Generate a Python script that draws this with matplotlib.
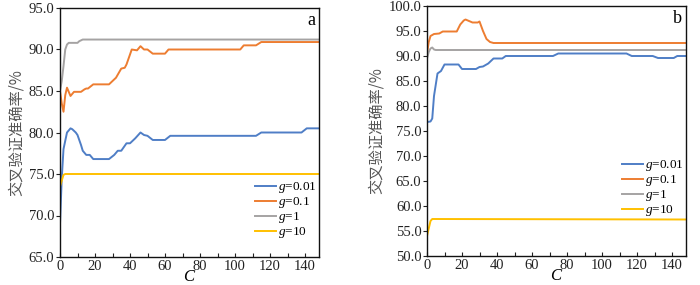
import matplotlib
matplotlib.use("Agg")
from matplotlib import pyplot as plt
from matplotlib.ticker import MultipleLocator, FormatStrFormatter

plt.rcParams['font.family'] = ['Liberation Serif', 'Noto Sans CJK SC']
plt.rcParams['mathtext.fontset'] = 'custom'
plt.rcParams['mathtext.it'] = 'Liberation Serif:italic'
plt.rcParams['mathtext.rm'] = 'Liberation Serif'

labels = ['$g$=0.01', '$g$=0.1', '$g$=1', '$g$=10']
colors = ['#4F7EC6', '#ED7D31', '#A5A3A3', '#FFC000']

# panel a
a_c001 = [0, 1, 2, 4, 6, 7, 9, 10, 12, 13, 15, 17, 19, 28, 31, 33, 35, 38, 40, 43, 46,
          48, 50, 53, 60, 63, 112, 115, 138, 141, 150]
a_g001 = [69.0, 74.5, 78.0, 80.0, 80.5, 80.4, 80.0, 79.7, 78.5, 77.8, 77.3, 77.3, 76.8,
          76.8, 77.3, 77.8, 77.8, 78.7, 78.7, 79.3, 80.0, 79.7, 79.6, 79.1, 79.1, 79.6,
          79.6, 80.0, 80.0, 80.5, 80.5]
a_c01 = [0, 1, 2, 3, 4, 5, 6, 8, 12, 14, 15, 16, 19, 28, 30, 32, 35, 37, 38, 41, 44, 46,
         48, 50, 53, 60, 62, 103, 105, 112, 115, 150]
a_g01 = [85.0, 83.5, 82.5, 84.5, 85.4, 84.9, 84.4, 84.9, 84.9, 85.2, 85.3, 85.3, 85.8,
         85.8, 86.2, 86.6, 87.7, 87.8, 88.2, 90.0, 89.9, 90.4, 90.0, 90.0, 89.5, 89.5,
         90.0, 90.0, 90.5, 90.5, 90.9, 90.9]
a_c1 = [0, 1, 2, 3, 4, 5, 10, 11, 13, 150]
a_g1 = [85.0, 86.2, 88.0, 90.0, 90.6, 90.8, 90.8, 91.0, 91.2, 91.2]
a_c10 = [0, 1, 2, 3, 150]
a_g10 = [73.5, 74.2, 74.9, 75.0, 75.0]

# panel b
b_c001 = [0, 2, 3, 4, 6, 8, 10, 18, 20, 28, 30, 32, 35, 38, 43, 45, 72, 75, 114, 117,
          129, 132, 141, 143, 150]
b_g001 = [76.8, 76.9, 77.5, 82.0, 86.5, 87.0, 88.3, 88.3, 87.4, 87.4, 87.8, 87.9, 88.5,
          89.5, 89.5, 90.0, 90.0, 90.5, 90.5, 90.0, 90.0, 89.6, 89.6, 90.0, 90.0]
b_c01 = [0, 1, 2, 4, 7, 9, 17, 19, 21, 22, 24, 26, 29, 30, 32, 34, 36, 38, 150]
b_g01 = [90.5, 92.8, 94.0, 94.4, 94.5, 94.9, 94.9, 96.3, 97.1, 97.3, 97.0, 96.7, 96.7,
         96.9, 95.0, 93.4, 92.8, 92.6, 92.6]
b_c1 = [0, 1, 2, 3, 4, 5, 150]
b_g1 = [89.5, 90.8, 91.5, 91.7, 91.3, 91.2, 91.2]
b_c10 = [0, 1, 2, 3, 150]
b_g10 = [54.0, 55.5, 57.0, 57.4, 57.3]

panels = [
    ('a', [(a_c001, a_g001), (a_c01, a_g01), (a_c1, a_g1), (a_c10, a_g10)], (65, 95), 0.04),
    ('b', [(b_c001, b_g001), (b_c01, b_g01), (b_c1, b_g1), (b_c10, b_g10)], (50, 100), 0.125),
]
rects = [[60 / 700, 28 / 285, 259 / 700, 249 / 285],
         [427 / 700, 29 / 285, 259 / 700, 250 / 285]]

fig = plt.figure(figsize=(7, 2.85), dpi=100)

for (tag, series, ylim, leg_y), rect in zip(panels, rects):
    ax = fig.add_axes(rect)
    for (xs, ys), lab, col in zip(series, labels, colors):
        ax.plot(xs, ys, color=col, lw=1.4, label=lab)
    ax.set_xlim(0, 148)
    ax.set_ylim(*ylim)
    ax.xaxis.set_major_locator(MultipleLocator(20))
    ax.xaxis.set_minor_locator(MultipleLocator(10))
    ax.yaxis.set_major_locator(MultipleLocator(5))
    ax.yaxis.set_major_formatter(FormatStrFormatter('%.1f'))
    ax.tick_params(axis='x', which='both', direction='in', length=3, width=0.8,
                   labelsize=10.5, pad=2, colors='#222222')
    ax.tick_params(axis='y', direction='out', length=3, width=0.8, labelsize=10.5,
                   pad=1, colors='#222222')
    for sp in ax.spines.values():
        sp.set_linewidth(1.0)
        sp.set_color('#111111')
    ax.set_xlabel('$C$', fontsize=12, labelpad=-3)
    ax.set_ylabel('交叉验证准确率/%', fontsize=11, color='#555555', labelpad=3,
                  family=['Noto Sans CJK SC'])
    ax.text(0.985, 0.985, tag, transform=ax.transAxes, ha='right', va='top', fontsize=13)
    ax.legend(loc='lower right', bbox_to_anchor=(1.015, leg_y), frameon=False,
              fontsize=9.5, handlelength=1.6, handletextpad=0.1, labelspacing=0.0,
              borderpad=0.0)

fig.savefig('out.png', dpi=100)
